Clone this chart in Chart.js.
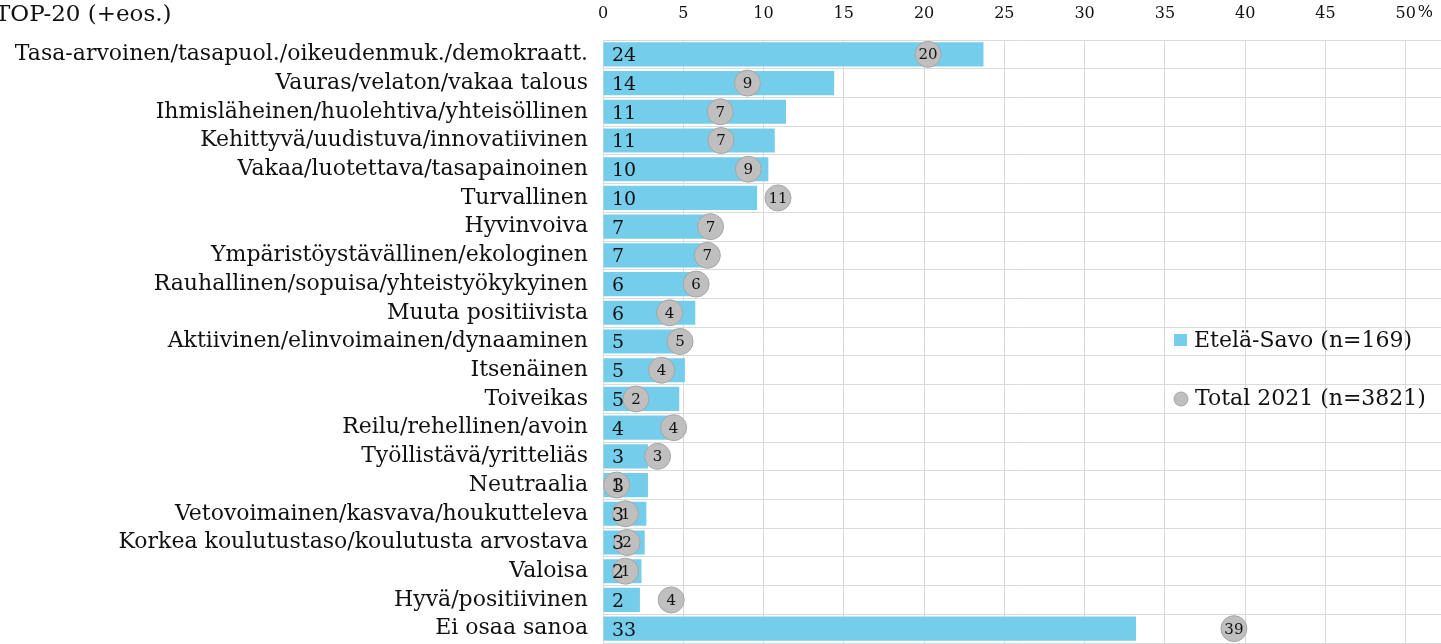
<!DOCTYPE html>
<html>
<head>
<meta charset="utf-8">
<script src="https://cdn.jsdelivr.net/npm/chart.js@4"></script>
<style>
  html, body { margin: 0; padding: 0; background: #fff; overflow: hidden; }
  #wrap { width: 1441px; height: 644px; overflow: hidden; }
  canvas { display: block; }
</style>
</head>
<body>
<div id="wrap"><canvas id="chart" width="1455" height="657"></canvas></div>
<script>
const categories = [
  "Tasa-arvoinen/tasapuol./oikeudenmuk./demokraatt.",
  "Vauras/velaton/vakaa talous",
  "Ihmisläheinen/huolehtiva/yhteisöllinen",
  "Kehittyvä/uudistuva/innovatiivinen",
  "Vakaa/luotettava/tasapainoinen",
  "Turvallinen",
  "Hyvinvoiva",
  "Ympäristöystävällinen/ekologinen",
  "Rauhallinen/sopuisa/yhteistyökykyinen",
  "Muuta positiivista",
  "Aktiivinen/elinvoimainen/dynaaminen",
  "Itsenäinen",
  "Toiveikas",
  "Reilu/rehellinen/avoin",
  "Työllistävä/yritteliäs",
  "Neutraalia",
  "Vetovoimainen/kasvava/houkutteleva",
  "Korkea koulutustaso/koulutusta arvostava",
  "Valoisa",
  "Hyvä/positiivinen",
  "Ei osaa sanoa"
];

// Etelä-Savo (n=169), %
const etelaSavo = [23.7, 14.4, 11.4, 10.7, 10.3, 9.6, 6.6, 6.5, 5.6, 5.75, 4.9, 5.1, 4.75, 4.2, 2.8, 2.8, 2.7, 2.6, 2.4, 2.3, 33.2];
// Total 2021 (n=3821), %
const total2021 = [20.25, 9.0, 7.3, 7.35, 9.05, 10.9, 6.7, 6.5, 5.8, 4.15, 4.8, 3.65, 2.05, 4.4, 3.4, 0.85, 1.4, 1.5, 1.4, 4.25, 39.3];

const xTicks = [0, 5, 10, 15, 20, 25, 30, 35, 40, 45, 50];

const seriesNames = ["Etelä-Savo (n=169)", "Total 2021 (n=3821)"];
const chartTitle = "TOP-20 (+eos.)";

const barColor = "#74cdea";
const dotColor = "#bfbfbf";
const dotBorder = "#a6a6a6";
const gridColor = "#dadada";
const fontFamily = "'DejaVu Serif', 'Liberation Serif', serif";

// labels, title, legend drawn on top of the marks
const labelPlugin = {
  id: "labelPlugin",
  afterDatasetsDraw(chart) {
    const ctx = chart.ctx;
    const barMeta = chart.getDatasetMeta(1);
    const dotMeta = chart.getDatasetMeta(0);
    ctx.save();
    ctx.fillStyle = "#111";
    ctx.textBaseline = "middle";

    // bar values, left inside the bar
    ctx.font = "19px " + fontFamily;
    ctx.textAlign = "left";
    barMeta.data.forEach((bar, i) => {
      ctx.fillText(Math.round(etelaSavo[i]), chart.chartArea.left + 9, bar.y + 2);
    });

    // dot values, centered on the dot
    ctx.font = "15px " + fontFamily;
    ctx.textAlign = "center";
    dotMeta.data.forEach((pt, i) => {
      ctx.fillText(Math.round(total2021[i]), pt.x, pt.y + 1);
    });

    // percent sign after the last tick
    const xs = chart.scales.x;
    ctx.font = "16px " + fontFamily;
    ctx.textAlign = "left";
    ctx.fillText("%", xs.getPixelForValue(50) + 12, 13);

    // title
    ctx.font = "23px " + fontFamily;
    ctx.textAlign = "left";
    ctx.fillText(chartTitle, -5, 15);

    // legend
    ctx.font = "22px " + fontFamily;
    ctx.fillStyle = barColor;
    ctx.fillRect(1174, 334, 13, 12);
    ctx.fillStyle = "#111";
    ctx.fillText(seriesNames[0], 1194, 341);
    ctx.beginPath();
    ctx.arc(1181, 399, 7, 0, Math.PI * 2);
    ctx.fillStyle = dotColor;
    ctx.fill();
    ctx.strokeStyle = dotBorder;
    ctx.lineWidth = 1;
    ctx.stroke();
    ctx.fillStyle = "#111";
    ctx.fillText(seriesNames[1], 1195, 399);
    ctx.restore();
  }
};

const ctx = document.getElementById("chart");
new Chart(ctx, {
  data: {
    labels: categories,
    datasets: [
      {
        type: "line",
        label: seriesNames[1],
        data: total2021,
        showLine: false,
        pointRadius: 13,
        pointHoverRadius: 13,
        pointBackgroundColor: dotColor,
        pointBorderColor: dotBorder,
        pointBorderWidth: 1,
        order: 1,
      },
      {
        type: "bar",
        label: seriesNames[0],
        data: etelaSavo,
        backgroundColor: barColor,
        borderWidth: 0,
        barPercentage: 0.84,
        categoryPercentage: 1,
        order: 2,
      },
    ],
  },
  options: {
    indexAxis: "y",
    responsive: false,
    animation: false,
    layout: { padding: { top: 0, left: 0, right: 0, bottom: 2 } },
    plugins: {
      legend: { display: false },
      tooltip: { enabled: false },
    },
    scales: {
      x: {
        position: "top",
        min: 0,
        max: 52.2,
        afterBuildTicks(scale) {
          scale.ticks = xTicks.map((v) => ({ value: v }));
        },
        afterFit(scale) {
          scale.height = 40;
          scale.paddingLeft = 0;
          scale.paddingRight = 0;
        },
        grid: { color: gridColor, drawTicks: false },
        border: { display: false },
        ticks: {
          padding: 17,
          color: "#111",
          font: { family: fontFamily, size: 16 },
        },
      },
      y: {
        offset: true,
        afterFit(scale) {
          scale.width = 603;
          scale.paddingTop = 0;
          scale.paddingBottom = 0;
        },
        grid: { color: gridColor, drawTicks: false, offset: true },
        border: { color: gridColor },
        ticks: {
          autoSkip: false,
          padding: 15,
          color: "#111",
          font: { family: fontFamily, size: 22 },
        },
      },
    },
  },
  plugins: [labelPlugin],
});
</script>
</body>
</html>
